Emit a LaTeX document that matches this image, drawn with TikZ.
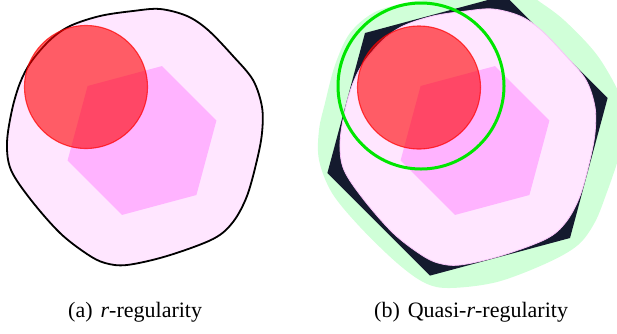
\documentclass[tikz,border=0pt]{standalone}
\usepackage{fontspec}
\setmainfont{Liberation Serif}
\definecolor{pinkfill}{RGB}{255,230,255}
\definecolor{hexfill}{RGB}{255,179,255}
\definecolor{darkhex}{RGB}{20,26,46}
\definecolor{greenfill}{RGB}{208,255,216}
\definecolor{greenring}{RGB}{0,230,0}
\definecolor{pinkline}{RGB}{248,196,248}
\tikzset{
  blobshape/.style={fill=pinkfill},
  hexshape/.style={fill=hexfill},
  redball/.style={fill=red, fill opacity=0.6, draw=red, draw opacity=0.7, line width=1.1pt},
  ring/.style={draw=greenring, line width=3pt},
  caption/.style={font=\fontsize{22}{26}\selectfont, anchor=base west, inner sep=0pt}
}
\newcommand{\blobpath}{plot[smooth cycle, tension=0.55] coordinates {
  (160,9) (187,16) (208,30) (233,56) (253,80) (262,107) (262,133) (257,160)
  (247,196) (233,222) (213,239) (167,256) (127,265) (105,263) (87,254)
  (60,233) (31,200) (11,170) (7,143) (12,110) (20,83) (31,62) (50,40)
  (70,26) (100,16) (133,11)}}
\newcommand{\hexpath}{(161.9,66.1) -- (216.4,120.6) -- (196.4,195.0) -- (122.1,214.9) -- (67.6,160.4) -- (87.6,86.0) -- cycle}
\begin{document}
\begin{tikzpicture}[x=1pt,y=-1pt]
\useasboundingbox (0,0) rectangle (617,333);
% ---------- (a) ----------
\coordinate (ca) at (86,87);
\draw[blobshape, draw=black, line width=1.8pt] \blobpath;
\fill[hexshape] \hexpath;
\draw[redball] (ca) circle[radius=61.5];
% ---------- (b) ----------
\begin{scope}
\fill[greenfill] plot[smooth cycle, tension=0.55] coordinates {
  (470,-12) (515,-14) (540,2) (565,21) (597,55) (620,95) (628,125) (618,160)
  (607,192) (595,222) (578,245) (547,263) (497,282) (450,288) (425,283)
  (397,263) (360,227) (332,193) (319,160) (319,130) (325,103) (335,65)
  (350,33) (375,12) (410,2) (440,-2)};
\fill[darkhex] (505.0,-4.6) -- (607.6,98.0) -- (570.0,238.0) -- (430.0,275.6) -- (327.4,173.0) -- (365.0,33.0) -- cycle;
\begin{scope}[xshift=333pt]
\draw[blobshape, draw=pinkline, line width=0.8pt] \blobpath;
\fill[hexshape] \hexpath;
\end{scope}
\coordinate (cb) at (419,87.5);
\coordinate (gb) at (421,86);
\draw[redball] (cb) circle[radius=61.5];
\draw[ring] (gb) circle[radius=83];
\end{scope}
% ---------- captions ----------
\node[caption] (capa) at (68,317) {(a)\hspace{8pt}\textit{r}-regularity};
\node[caption] (capb) at (374,317) {(b)\hspace{8pt}Quasi-\textit{r}-regularity};
\end{tikzpicture}
\end{document}
